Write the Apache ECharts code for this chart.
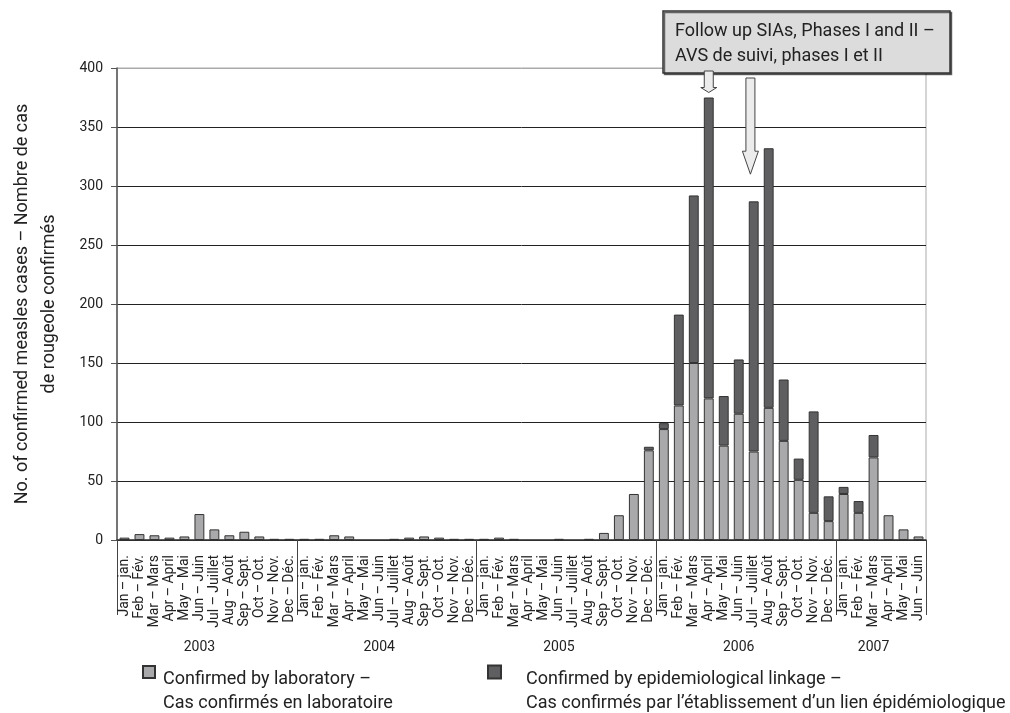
<!DOCTYPE html>
<html><head><meta charset="utf-8">
<script src="https://cdn.jsdelivr.net/npm/echarts@6/dist/echarts.min.js"></script>
<style>html,body{margin:0;padding:0;background:#fff}#c{width:1010px;height:713px}</style>
</head><body><div id="c"></div>
<script>
const FONT = "Roboto,'Liberation Sans',sans-serif";

const monthLabels = ['Jan – jan.','Feb – Fév.','Mar – Mars','Apr – April','May – Mai','Jun – Juin',
  'Jul – Juillet','Aug – Août','Sep – Sept.','Oct – Oct.','Nov – Nov.','Dec – Déc.'];
const years = ['2003','2004','2005','2006','2007'];
const monthsInYear = [12, 12, 12, 12, 6];

// Confirmed by laboratory
const labCases = [
  2, 5, 4, 2, 3, 22, 9, 4, 7, 3, 1, 1,          // 2003
  1, 1, 4, 3, 0, 0, 1, 2, 3, 2, 1, 1,           // 2004
  1, 2, 1, 0, 0, 1, 0, 1, 6, 21, 39, 76,        // 2005
  94, 114, 150, 120, 80, 107, 75, 112, 84, 51, 23, 16, // 2006
  39, 23, 70, 21, 9, 3                          // 2007
];
// Confirmed by epidemiological linkage
const epiCases = [
  0, 0, 0, 0, 0, 0, 0, 0, 0, 0, 0, 0,
  0, 0, 0, 0, 0, 0, 0, 0, 0, 0, 0, 0,
  0, 0, 0, 0, 0, 0, 0, 0, 0, 0, 0, 3,
  5, 77, 142, 255, 42, 46, 212, 220, 52, 18, 86, 21,
  6, 10, 19, 0, 0, 0
];
const yTickValues = [0, 50, 100, 150, 200, 250, 300, 350, 400];

const labName = 'Confirmed by laboratory –\nCas confirmés en laboratoire';
const epiName = 'Confirmed by epidemiological linkage –\nCas confirmés par l’établissement d’un lien épidémiologique';
const yTitle = 'No. of confirmed measles cases – Nombre de cas\nde rougeole confirmés';
const noteLines = ['Follow up SIAs, Phases I and II –', 'AVS de suivi, phases I et II'];

// SIA phase I arrow: Apr 2006 ; phase II arrow: between Jun and Jul 2006
const phase1Idx = 39;
const phase2From = 41, phase2To = 42, phase2Frac = 0.78;
const phase2TipValue = 310;

const months = [];
const yearOfMonth = [];
const yearStarts = [];
const yearLabelIdx = [];
years.forEach((y, i) => {
  yearStarts.push(months.length);
  yearLabelIdx.push(months.length + Math.floor((monthsInYear[i] - 1) / 2));
  monthLabels.slice(0, monthsInYear[i]).forEach(m => { months.push(m); yearOfMonth.push(y); });
});

const toBar = v => (v === 0 ? '-' : v);

const legendFmt = name => '{sp| }\n' + name.split('\n').map(s => '{t|' + s + '}').join('\n');
const legendText = {
  color: '#222', fontFamily: FONT,
  rich: {
    sp: { fontSize: 2, lineHeight: 38, fontFamily: FONT },
    t: { fontSize: 18, lineHeight: 24, fontFamily: FONT, color: '#222' }
  }
};

const chart = echarts.init(document.getElementById('c'), null, { renderer: 'canvas' });
const option = {
  animation: false,
  backgroundColor: '#fff',
  textStyle: { fontFamily: FONT },
  grid: { left: 117, right: 84, top: 68, bottom: 173, show: true, borderColor: '#aaa', borderWidth: 1, backgroundColor: 'transparent' },
  legend: [
    { data: [labName], icon: 'rect', left: 142, top: 647, padding: 0, itemWidth: 12, itemHeight: 12, selectedMode: false,
      formatter: legendFmt, textStyle: Object.assign({ padding: [0, 0, 0, 3] }, legendText) },
    { data: [epiName], icon: 'rect', left: 487, top: 647, padding: 0, itemWidth: 13, itemHeight: 13, selectedMode: false,
      formatter: legendFmt, textStyle: Object.assign({ padding: [0, 0, 0, 20] }, legendText) }
  ],
  xAxis: [
    {
      type: 'category', data: months, position: 'bottom',
      axisLine: { lineStyle: { color: '#333', width: 1.5 } },
      axisTick: { interval: 0, length: 4, lineStyle: { color: '#333' } },
      axisLabel: { interval: 0, rotate: 90, fontSize: 14, margin: 15, color: '#222', fontFamily: FONT }
    },
    {
      type: 'category', data: yearOfMonth, position: 'bottom',
      axisLine: { show: false },
      axisTick: { show: true, length: 75, interval: i => yearStarts.includes(i), lineStyle: { color: '#444', width: 1 } },
      axisLabel: { interval: i => yearLabelIdx.includes(i), fontSize: 14, margin: 100, color: '#222', fontFamily: FONT }
    }
  ],
  yAxis: {
    type: 'value', min: yTickValues[0], max: yTickValues[yTickValues.length - 1], interval: 50,
    name: yTitle, nameLocation: 'middle', nameGap: 54, nameRotate: 90,
    nameTextStyle: { fontSize: 18, lineHeight: 27, color: '#222', fontFamily: FONT, align: 'center' },
    axisLine: { show: true, lineStyle: { color: '#555', width: 1.5 } },
    axisTick: { show: true, length: 6, lineStyle: { color: '#555' } },
    axisLabel: { fontSize: 14, margin: 14, color: '#222', fontFamily: FONT },
    splitLine: { show: true, lineStyle: { width: 1, color: ['#222', '#222', '#222', '#222', '#222', '#222', '#222', '#222', '#aaa'] } }
  },
  series: [
    { name: labName, type: 'bar', stack: 'cases', barWidth: '66%', xAxisIndex: 0,
      itemStyle: { color: '#a9a9ab', borderColor: '#333', borderWidth: 1 },
      data: labCases.map(toBar) },
    { name: epiName, type: 'bar', stack: 'cases', barWidth: '66%', xAxisIndex: 0,
      itemStyle: { color: '#5f5f61', borderColor: '#333', borderWidth: 1 },
      data: epiCases.map(toBar) }
  ]
};
chart.setOption(option);

// Annotation box + arrows (positions derived from the axes)
function arrow(x, top, headStart, tip) {
  return {
    type: 'polygon', z: 100,
    shape: { points: [[x - 4.5, top], [x + 4.5, top], [x + 4.5, headStart], [x + 8, headStart], [x, tip], [x - 8, headStart], [x - 4.5, headStart]] },
    style: { fill: '#ececec', stroke: '#444', lineWidth: 1 }
  };
}
const boxX = 663, boxY = 11, boxW = 287, boxH = 62;
const x1 = chart.convertToPixel({ xAxisIndex: 0 }, phase1Idx);
const tip1 = chart.convertToPixel({ yAxisIndex: 0 }, labCases[phase1Idx] + epiCases[phase1Idx]) - 5;
const xa = chart.convertToPixel({ xAxisIndex: 0 }, phase2From);
const xb = chart.convertToPixel({ xAxisIndex: 0 }, phase2To);
const x2 = xa + (xb - xa) * phase2Frac;
const tip2 = chart.convertToPixel({ yAxisIndex: 0 }, phase2TipValue);

chart.setOption({
  graphic: [
    { type: 'rect', z: 90, shape: { x: boxX, y: boxY, width: boxW, height: boxH },
      style: { fill: '#dcdcdc', stroke: '#333', lineWidth: 1.5, shadowColor: 'rgba(0,0,0,0.55)', shadowOffsetX: 1.5, shadowOffsetY: 1.5, shadowBlur: 0 } },
    { type: 'text', z: 95, left: boxX + 12, top: boxY + 8,
      style: { text: noteLines.join('\n'), fontSize: 18, lineHeight: 25, fill: '#222', fontFamily: FONT } },
    arrow(x1, boxY + boxH - 2, tip1 - 5, tip1),
    arrow(x2, 78, tip2 - 23, tip2)
  ]
});
</script>
</body></html>
